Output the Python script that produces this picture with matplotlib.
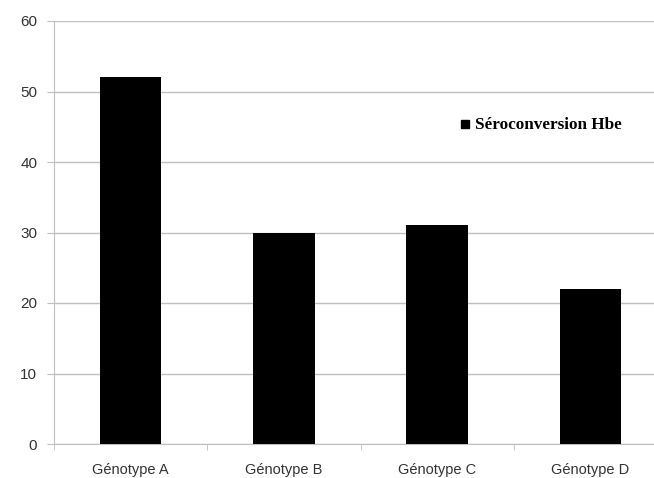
import matplotlib.pyplot as plt
from matplotlib.lines import Line2D

categories = ['Génotype A', 'Génotype B', 'Génotype C', 'Génotype D']
values = [52, 30, 31, 22]
series_name = 'Séroconversion Hbe'

fig = plt.figure(figsize=(6.54, 4.78), dpi=100)
ax = fig.add_axes([54 / 654, 34 / 478, 613 / 654, 423 / 478])

x = range(len(categories))
ax.bar(x, values, width=0.4, color='black', zorder=3)

ax.set_xlim(-0.5, len(categories) - 0.5)
ax.set_ylim(0, 60)
ax.set_yticks(range(0, 61, 10))
ax.set_xticks(list(x))
ax.set_xticklabels(categories)
ax.set_xticks([i + 0.5 for i in range(-1, len(categories))], minor=True)

ax.grid(True, axis='y', color='#bfbfbf', linewidth=1, zorder=0)
for s in ['top', 'right']:
    ax.spines[s].set_visible(False)
for s in ['left', 'bottom']:
    ax.spines[s].set_color('#bfbfbf')
ax.tick_params(axis='y', length=5, color='#bfbfbf', labelsize=11,
               labelcolor='#333333', pad=7)
ax.tick_params(axis='x', which='major', length=0, labelsize=10.5,
               labelcolor='#333333', pad=14)
ax.tick_params(axis='x', which='minor', length=4, color='#bfbfbf')
for lab in ax.get_xticklabels() + ax.get_yticklabels():
    lab.set_family('Liberation Sans')

handle = Line2D([], [], marker='s', color='black', linestyle='none', markersize=5.5)
ax.legend([handle], [series_name], loc='center left',
          bbox_to_anchor=(0.628, 0.753), frameon=False, handletextpad=0.0,
          handlelength=1.2,
          prop={'family': 'Liberation Serif', 'weight': 'bold', 'size': 12.3})

fig.savefig('out.png', dpi=100)
